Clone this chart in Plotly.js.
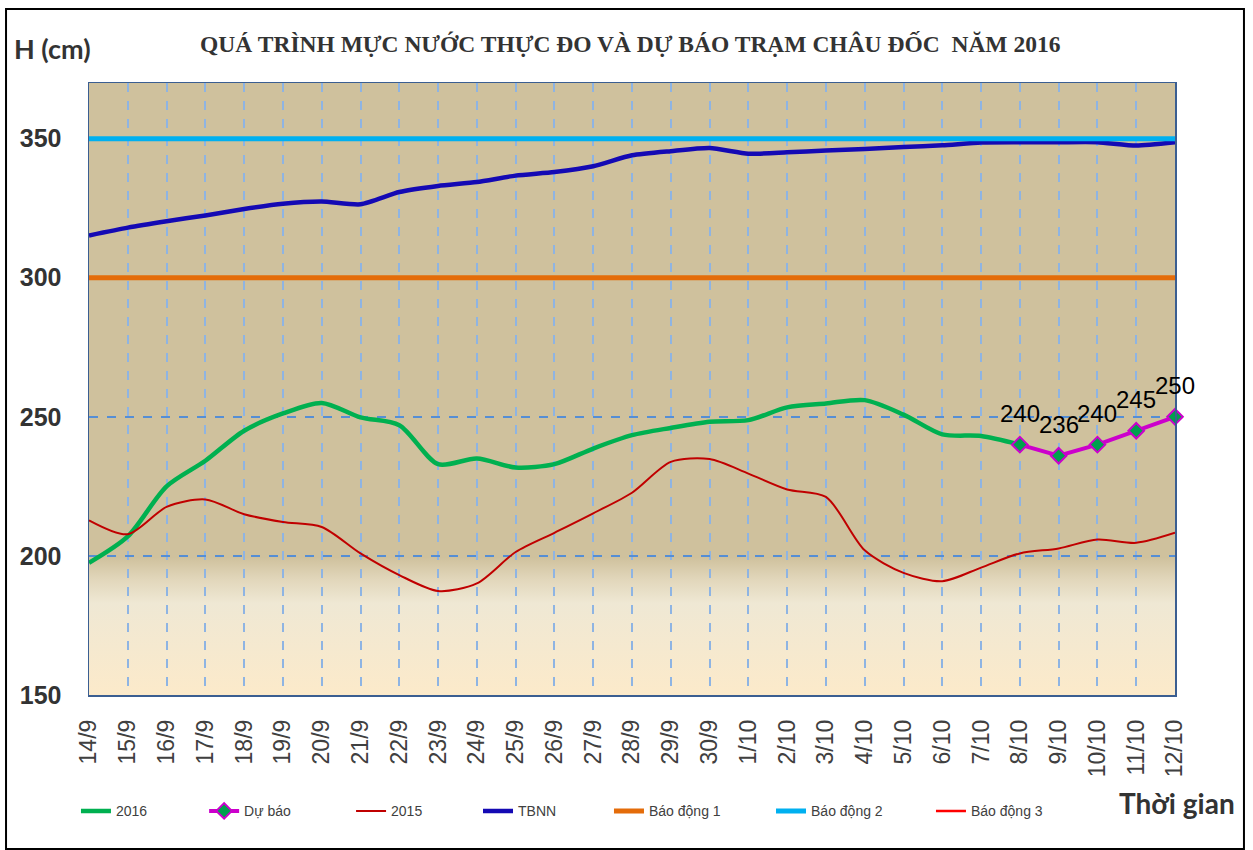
<!DOCTYPE html>
<html>
<head>
<meta charset="utf-8">
<script src="https://cdn.plot.ly/plotly-3.0.1.min.js"></script>
<style>
  body { margin: 0; background: #fff; }
  #chart { width: 1253px; height: 850px; }
</style>
</head>
<body>
<div id="chart"></div>
<script>
// ngày trên trục hoành
const dates = ['14/9', '15/9', '16/9', '17/9', '18/9', '19/9', '20/9', '21/9', '22/9',
    '23/9', '24/9', '25/9', '26/9', '27/9', '28/9', '29/9', '30/9',
    '1/10', '2/10', '3/10', '4/10', '5/10', '6/10', '7/10', '8/10', '9/10',
    '10/10', '11/10', '12/10'];

// thực đo 2016 (đến 8/10)
const h2016 = [197.5, 207, 225, 234.2, 245, 251.2, 255, 249.8, 247, 233, 235, 231.8, 233,
    238.6, 243.4, 246, 248.2, 248.8, 253.4, 254.8, 256, 250.8, 243.7, 243.1, 240];

// dự báo
const forecastDates = ['8/10', '9/10', '10/10', '11/10', '12/10'];
const forecast = [240, 236, 240, 245, 250];

// cùng kỳ 2015
const h2015 = [212.8, 207.8, 217.6, 220.3, 215, 212.2, 210.4, 200.9, 193.1, 187.4, 190.1,
    201.4, 208.3, 215.3, 222.7, 233.8, 234.8, 229.6, 223.9, 221.2, 202, 193.9, 190.9,
    195.8, 200.9, 202.7, 205.9, 204.7, 208.3];

// trung bình nhiều năm
const tbnn = [315.2, 318, 320.3, 322.4, 324.7, 326.6, 327.4, 326.4, 330.8, 333, 334.4,
    336.7, 338, 340.1, 344, 345.5, 346.6, 344.6, 345.1, 345.7, 346.3, 347, 347.6,
    348.6, 348.7, 348.7, 348.7, 347.5, 348.7];

// mức báo động
const bd1 = 300;
const bd2 = 350;
const bd3 = 400;

const yTicks = [150, 200, 250, 300, 350];

const ends = [dates[0], dates[dates.length - 1]];

const bgSvg = '<svg xmlns="http://www.w3.org/2000/svg" width="100" height="100" preserveAspectRatio="none">' +
    '<defs><linearGradient id="g" x1="0" y1="0" x2="0" y2="1">' +
    '<stop offset="0" stop-color="#CFC19D"/>' +
    '<stop offset="0.775" stop-color="#CFC19D"/>' +
    '<stop offset="0.81" stop-color="#E1D6BA"/>' +
    '<stop offset="0.85" stop-color="#EFE8D4"/>' +
    '<stop offset="1" stop-color="#FCEACA"/>' +
    '</linearGradient></defs><rect width="100" height="100" fill="url(#g)"/></svg>';

const data = [
    {
        x: dates.slice(0, h2016.length),
        y: h2016,
        mode: 'lines',
        name: '2016',
        legend: 'legend',
        line: { color: '#00B050', width: 4.5, shape: 'spline', smoothing: 0.8 },
    },
    {
        x: dates,
        y: h2015,
        mode: 'lines',
        name: '2015',
        legend: 'legend3',
        line: { color: '#C00000', width: 2, shape: 'spline', smoothing: 0.8 },
    },
    {
        x: dates,
        y: tbnn,
        mode: 'lines',
        name: 'TBNN',
        legend: 'legend4',
        line: { color: '#1409B4', width: 4.5, shape: 'spline', smoothing: 0.6 },
    },
    {
        x: ends,
        y: [bd1, bd1],
        mode: 'lines',
        name: 'Báo động 1',
        legend: 'legend5',
        line: { color: '#E46C0A', width: 5 },
    },
    {
        x: ends,
        y: [bd2, bd2],
        mode: 'lines',
        name: 'Báo động 2',
        legend: 'legend6',
        line: { color: '#00B0F0', width: 5 },
    },
    {
        x: ends,
        y: [bd3, bd3],
        mode: 'lines',
        name: 'Báo động 3',
        legend: 'legend7',
        line: { color: '#FF0000', width: 2.5 },
    },
    {
        x: forecastDates,
        y: forecast,
        mode: 'lines+markers',
        name: 'Dự báo',
        legend: 'legend2',
        line: { color: '#CC00CC', width: 4 },
        marker: { symbol: 'diamond', size: 12, color: '#00A04E', line: { color: '#CC00CC', width: 2 } },
        cliponaxis: false,
    },
];

const legendFont = { family: 'Liberation Sans, Arial', size: 14, color: '#404040' };
const legendX = [-0.012, 0.106, 0.2413, 0.3582, 0.4788, 0.628, 0.7753];
const legends = {};
legendX.forEach(function (lx, i) {
    legends[i === 0 ? 'legend' : 'legend' + (i + 1)] = {
        orientation: 'h',
        x: lx,
        xanchor: 'left',
        y: -0.19,
        yanchor: 'middle',
        font: legendFont,
        bgcolor: 'rgba(0,0,0,0)',
    };
});

// nhãn giá trị dự báo
const forecastLabels = forecastDates.map(function (d, i) {
    return {
        x: d,
        y: forecast[i],
        text: String(forecast[i]),
        showarrow: false,
        yshift: 31,
        xanchor: 'center',
        yanchor: 'middle',
        font: { family: 'Liberation Sans, Arial', size: 24, color: '#000' },
    };
});

const layout = Object.assign({
    width: 1253,
    height: 850,
    margin: { l: 89, r: 78, t: 83, b: 155 },
    paper_bgcolor: '#ffffff',
    plot_bgcolor: 'rgba(0,0,0,0)',
    showlegend: true,
    title: {
        text: '<b>QUÁ TRÌNH MỰC NƯỚC THỰC ĐO VÀ DỰ BÁO TRẠM CHÂU ĐỐC  NĂM 2016</b>',
        font: { family: 'Liberation Serif, Times New Roman', size: 23.5, color: '#333333' },
        x: 0.503,
        xanchor: 'center',
        y: 0.949,
        yanchor: 'middle',
        yref: 'container',
    },
    xaxis: {
        type: 'category',
        categoryorder: 'array',
        categoryarray: dates,
        range: [0, dates.length - 1],
        tickangle: -90,
        tickfont: { family: 'Liberation Sans, Arial', size: 23, color: '#404040' },
        ticks: '',
        ticklabelstandoff: 14,
        showgrid: true,
        gridcolor: '#8EB4E3',
        gridwidth: 2,
        griddash: 'dash',
        showline: true,
        linecolor: '#3B5E91',
        linewidth: 1.5,
        mirror: true,
        zeroline: false,
        automargin: false,
        fixedrange: true,
    },
    yaxis: {
        range: [150, 370],
        tickvals: yTicks,
        ticktext: yTicks.map(String),
        tickfont: { family: 'Liberation Sans, Arial', size: 25, color: '#333333', weight: 'bold' },
        ticks: '',
        ticklabelstandoff: 21,
        showgrid: true,
        gridcolor: '#558ED5',
        gridwidth: 1.5,
        griddash: 'dash',
        showline: true,
        linecolor: '#3B5E91',
        linewidth: 1.5,
        mirror: true,
        zeroline: false,
        automargin: false,
        fixedrange: true,
    },
    images: [
        {
            source: 'data:image/svg+xml;charset=utf-8,' + encodeURIComponent(bgSvg),
            xref: 'paper', yref: 'paper',
            x: 0, y: 1, sizex: 1, sizey: 1,
            xanchor: 'left', yanchor: 'top',
            sizing: 'stretch',
            layer: 'below',
        },
    ],
    annotations: [
        {
            text: '<b>H (cm)</b>',
            xref: 'paper', yref: 'paper',
            x: -0.071, y: 1.057,
            xanchor: 'left', yanchor: 'middle',
            showarrow: false,
            font: { family: 'Lato, Open Sans', size: 27, color: '#333333' },
        },
        {
            text: '<b>Thời gian</b>',
            xref: 'paper', yref: 'paper',
            x: 0.947, y: -0.176,
            xanchor: 'left', yanchor: 'middle',
            showarrow: false,
            font: { family: 'Lato, Open Sans', size: 28, color: '#333333' },
        },
    ].concat(forecastLabels),
    shapes: [
        {
            type: 'rect',
            xref: 'paper', yref: 'paper',
            x0: -0.0764, x1: 1.0635,
            y0: -0.2516, y1: 1.1209,
            line: { color: '#000000', width: 2 },
            fillcolor: 'rgba(0,0,0,0)',
            layer: 'above',
        },
    ],
}, legends);

const config = {
    responsive: false,
    displayModeBar: false,
    staticPlot: true,
};

Plotly.newPlot(document.getElementById('chart'), data, layout, config);
</script>
</body>
</html>
